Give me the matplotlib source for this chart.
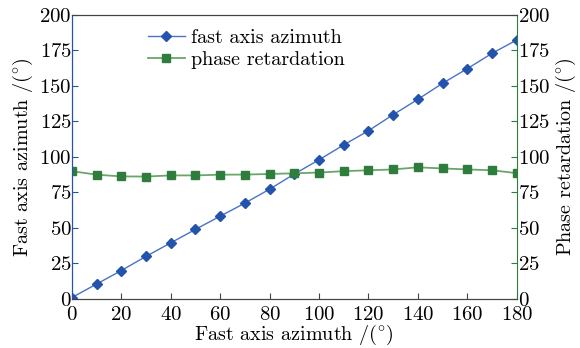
import matplotlib.pyplot as plt
import numpy as np

plt.rcParams["font.family"] = ["cmr10", "DejaVu Serif"]
plt.rcParams["axes.formatter.use_mathtext"] = True
plt.rcParams["mathtext.fontset"] = "cm"

# data
x_vals = [0, 10, 20, 30, 40, 50, 60, 70, 80, 90,
          100, 110, 120, 130, 140, 150, 160, 170, 180]
azimuth = [1, 10.5, 20, 30, 39.5, 49, 58.3, 67.5, 77.3, 88,
           98, 108.5, 118.5, 129.8, 140.6, 151.9, 162.2, 173, 182.4]
retardation = [90, 87.5, 86.3, 86.2, 87, 87, 87.5, 87.6, 88, 88.5,
               89, 90, 90.6, 91.2, 92.7, 91.9, 91.2, 90.6, 88.6]
y_ticks = [0, 25, 50, 75, 100, 125, 150, 175, 200]
x_ticks = [0, 20, 40, 60, 80, 100, 120, 140, 160, 180]

blue_line = "#4a72c8"
blue_mark = "#2453ad"
green_line = "#6aa66a"
green_mark = "#2f7d3c"

fig = plt.figure(figsize=(5.8, 3.48), dpi=100)
ax = fig.add_axes([0.124, 0.141, 0.767, 0.816])
ax2 = ax.twinx()

l1, = ax.plot(x_vals, azimuth, color=blue_line, lw=1.0, marker="D",
              markersize=5, markerfacecolor=blue_mark, markeredgecolor=blue_mark,
              label="fast axis azimuth")
l2, = ax2.plot(x_vals, retardation, color=green_line, lw=1.3, marker="s",
               markersize=6, markerfacecolor=green_mark, markeredgecolor=green_mark,
               label="phase retardation")

for a in (ax, ax2):
    a.set_ylim(0, 200)
    a.set_yticks(y_ticks)
    a.tick_params(direction="in", labelsize=15, length=4)
ax.set_xlim(0, 180)
ax.set_xticks(x_ticks)

ax.spines["left"].set_color(blue_mark)
ax2.spines["left"].set_color(blue_mark)
ax2.spines["right"].set_color(green_mark)
ax.spines["right"].set_visible(False)
for s in ("top", "bottom"):
    ax.spines[s].set_color("#444444")
    ax2.spines[s].set_color("#444444")
ax.tick_params(axis="y", colors=blue_mark, labelcolor="black", pad=0)
ax2.tick_params(axis="y", colors=green_mark, labelcolor="black", pad=1)
ax.tick_params(axis="x", colors="#444444", labelcolor="black", pad=5)

ax.set_xlabel(r"Fast axis azimuth /($^{\circ}$)", fontsize=14.5, labelpad=-1)
ax.set_ylabel(r"Fast axis azimuth /($^{\circ}$)", fontsize=14.5, labelpad=3)
ax2.set_ylabel(r"Phase retardation /($^{\circ}$)", fontsize=14.5, labelpad=2)

ax.legend(handles=[l1, l2], loc="upper left", bbox_to_anchor=(0.14, 1.0),
          frameon=False, fontsize=14.5, handlelength=1.8, handletextpad=0.3,
          labelspacing=0.2, borderaxespad=0.3)

fig.savefig("out.png", dpi=100)
